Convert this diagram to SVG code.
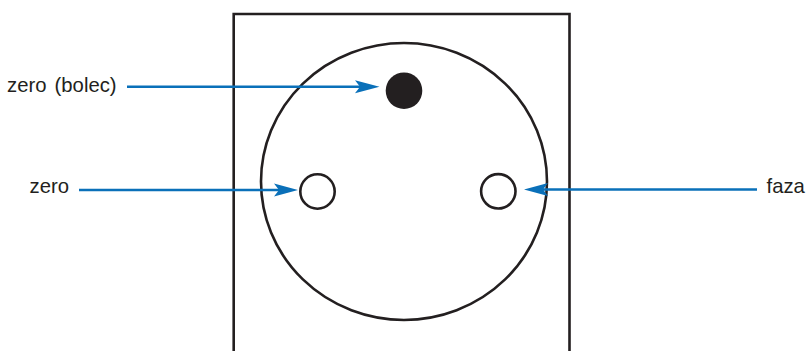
<svg xmlns="http://www.w3.org/2000/svg" width="807" height="351" viewBox="0 0 807 351">
<style>
.s{fill:none;stroke:#231f20;stroke-width:2.6}
.c{fill:none;stroke:#0a70b9;stroke-width:2.5}
.a{fill:#0a70b9}
text{font-family:"Liberation Sans",Arial,sans-serif;font-size:20.300px;fill:#231f20}
</style>
<rect width="807" height="351" fill="#fff"/>
<g id="socket"><path class="s" d="M233.700 351V14H569.500V351"/></g>
<g id="face"><ellipse class="s" cx="404" cy="181.500" rx="143" ry="138.500"/></g>
<g id="pin"><circle cx="404" cy="90.700" r="18.300" fill="#231f20"/></g>
<g id="hole-left"><circle class="s" cx="317.500" cy="191.500" r="17.200" fill="#fff"/></g>
<g id="hole-right"><circle class="s" cx="498.300" cy="191.300" r="17.200" fill="#fff"/></g>
<g id="connectors">
<path class="c" d="M127 86.700H362"/><path class="a" d="M379.500 86.700L355 80.200L360 86.700L355 93.200Z"/>
<path class="c" d="M79 190H280"/><path class="a" d="M298 190L274 183.500L279 190L274 196.500Z"/>
<path class="c" d="M757 189.500H542"/><path class="a" d="M524 189.500L548 183L543 189.500L548 196Z"/>
</g>
<g id="labels">
<text x="7" y="92" word-spacing="2.500">zero (bolec)</text>
<text x="29.500" y="193">zero</text>
<text x="766.500" y="193">faza</text>
</g>
</svg>
